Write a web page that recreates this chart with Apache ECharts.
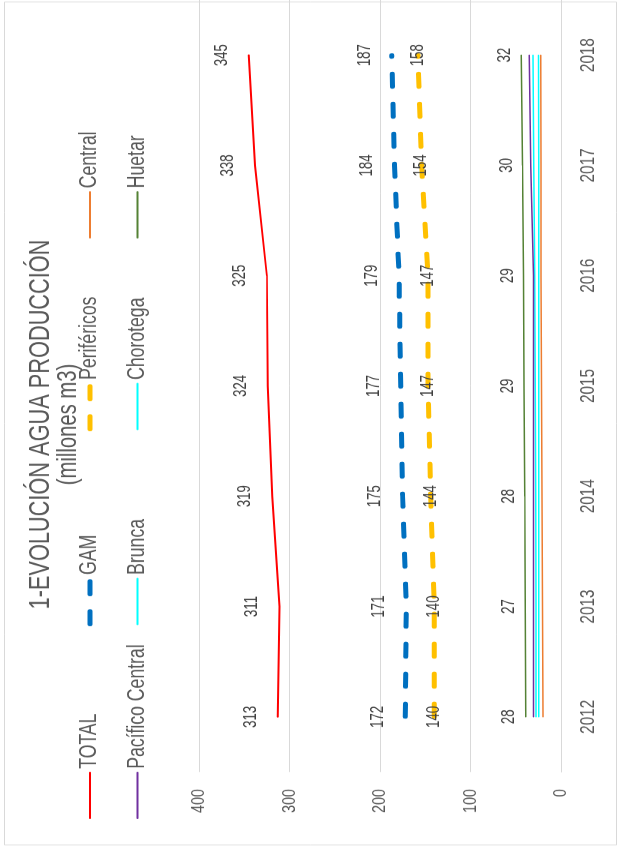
<!DOCTYPE html>
<html>
<head>
<meta charset="utf-8">
<script src="https://cdn.jsdelivr.net/npm/echarts@6/dist/echarts.min.js"></script>
<style>
  html, body { margin: 0; padding: 0; background: #fff; overflow: hidden; }
  /* el gráfico original está girado 90° a la izquierda y algo comprimido */
  #main {
    position: absolute; left: 0; top: 0;
    width: 1132px; height: 620px;
    transform-origin: 0 0;
    transform: translate(0, 849px) rotate(-90deg) scaleX(0.75);
  }
</style>
</head>
<body>
<div id="main"></div>
<script>
const years = ['2012', '2013', '2014', '2015', '2016', '2017', '2018'];
const total = [313, 311, 319, 324, 325, 338, 345];
const gam = [172, 171, 175, 177, 179, 184, 187];
const perifericos = [140, 140, 144, 147, 147, 154, 158];
const central = [20, 20.5, 21, 21.5, 22, 22, 22.5];
const pacificoCentral = [30.5, 30.5, 30.5, 30.5, 30.5, 33.5, 35];
const brunca = [27.5, 27.5, 28, 28.5, 29, 30, 31];
const chorotega = [24.5, 24.5, 24.5, 24.5, 24.5, 24.5, 25];
const huetar = [39, 39.5, 40, 41, 41.5, 42.5, 44];
const huetarLabels = [28, 27, 28, 29, 29, 30, 32];  // etiquetas tal como aparecen
const valueMin = 0, valueMax = 400, valueStep = 100;

const sans = '"Liberation Sans", Arial, sans-serif';
const grey = '#595959';
const dashed = [17.7, 22.3];

const numLabel = (pos, dist) => ({
  show: true, position: pos, distance: dist,
  color: '#404040', fontSize: 17.6, fontFamily: sans
});

function lineSeries(name, data, color, width, dash, label) {
  return {
    name: name, type: 'line', data: data,
    symbol: label ? 'circle' : 'none', symbolSize: 0,
    lineStyle: { color: color, width: width, type: dash || 'solid', cap: 'round' },
    itemStyle: { color: color },
    label: label || { show: false },
    emphasis: { disabled: true }
  };
}

// los dos guiones gruesos de la leyenda
const dashItem = (name, color) => ({
  name: name,
  lineStyle: { color: color, width: 5, type: dashed, cap: 'round' }
});

const legendCol = (left, names) => ({
  orient: 'vertical', left: left, top: 73, itemGap: 23.5,
  itemWidth: 61, itemHeight: 14, data: names,
  itemStyle: { opacity: 0 },
  textStyle: { color: grey, fontSize: 23.5, fontFamily: sans }
});

const chart = echarts.init(document.getElementById('main'));
chart.setOption({
  backgroundColor: '#fff',
  animation: false,
  title: {
    text: '1-EVOLUCIÓN AGUA PRODUCCIÓN',
    subtext: '(millones m3)',
    left: 'center', top: 21, itemGap: 0,
    textStyle: { color: grey, fontSize: 29, fontWeight: 'normal', fontFamily: sans },
    subtextStyle: { color: grey, fontSize: 27, fontFamily: sans }
  },
  legend: [
    legendCol(35, ['TOTAL', 'Pacífico Central']),
    legendCol(292, [dashItem('GAM', '#0070C0'), 'Brunca']),
    legendCol(552, [dashItem('Periféricos', '#FFC000'), 'Chorotega']),
    legendCol(809, ['Central', 'Huetar'])
  ],
  graphic: [{
    type: 'rect', shape: { x: 5.3, y: 4.5, width: 1124, height: 612 },
    style: { fill: 'none', stroke: '#d9d9d9', lineWidth: 1 }, silent: true
  }],
  grid: { left: 102.7, top: 199, width: 1035, bottom: 59 },
  xAxis: {
    type: 'category', data: years, boundaryGap: true,
    axisLine: { show: true, lineStyle: { color: '#d9d9d9' } },
    axisTick: { show: false },
    axisLabel: { color: grey, fontSize: 20.4, fontFamily: sans, margin: 17 }
  },
  yAxis: {
    type: 'value', min: valueMin, max: valueMax, interval: valueStep,
    axisLine: { show: false }, axisTick: { show: false },
    splitLine: { lineStyle: { color: '#d9d9d9', width: 1 } },
    axisLabel: { color: grey, fontSize: 19.2, fontFamily: sans, margin: 22.7 }
  },
  series: [
    lineSeries('Central', central, '#ED7D31', 1.5),
    lineSeries('Chorotega', chorotega, '#00FFFF', 1.5),
    lineSeries('Brunca', brunca, '#00FFFF', 1.5),
    lineSeries('Pacífico Central', pacificoCentral, '#7030A0', 1.5),
    lineSeries('Huetar', huetar, '#548235', 1.5),
    {
      name: 'Huetar (etiquetas)', type: 'line', data: huetarLabels,
      symbol: 'circle', symbolSize: 0,
      lineStyle: { opacity: 0 }, silent: true, label: numLabel('top', 18)
    },
    lineSeries('Periféricos', perifericos, '#FFC000', 5, dashed, numLabel('inside', 0)),
    lineSeries('GAM', gam, '#0070C0', 5, dashed, numLabel('top', 18)),
    lineSeries('TOTAL', total, '#FF0000', 2, 'solid', numLabel('top', 18))
  ]
});
</script>
</body>
</html>
